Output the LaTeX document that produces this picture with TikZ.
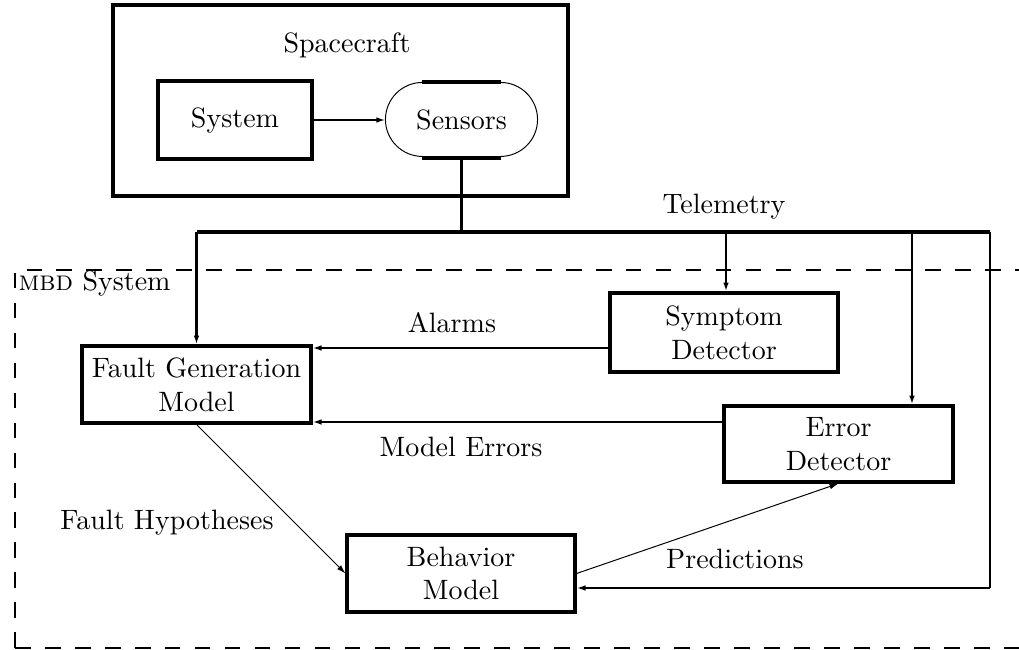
\documentclass[tikz,border=0pt]{standalone}
\usetikzlibrary{arrows.meta,calc}
\tikzset{
  sz/.style 2 args={minimum width=#1*0.3571pt, minimum height=#2*0.3571pt, inner sep=0pt},
  blk/.style={draw, line width=1.1pt, align=center},
  bus/.style={line width=1.4pt},
  heavy/.style={line width=1.05pt},
  medium/.style={line width=0.85pt},
  fine/.style={line width=0.35pt},
  tip/.style={-{Latex[length=3.2pt,width=2pt]}},
  lbl/.style={anchor=base, inner sep=0pt},
  boundary/.style={line width=1.05pt, dash pattern=on 5.6pt off 5.1pt},
}
\begin{document}
\begin{tikzpicture}[x=0.3571pt,y=-0.3571pt]
\useasboundingbox (0,0) rectangle (1019,650);

% spacecraft side
\node[blk, sz={455}{191}] (craft) at (340.5,100.5) {};
\node[lbl] (crafttitle) at (347,52) {Spacecraft};
\node[blk, sz={154}{78}] (system) at (235,120) {System};
\node[sz={151}{74}, align=center] (sensors) at (461.5,120) {Sensors};
% sensor outline: thin round ends, heavy straight sides
\draw[fine] ([xshift=13.21pt]sensors.north west) arc[start angle=90, end angle=270, radius=13.21pt];
\draw[fine] ([xshift=-13.21pt]sensors.north east) arc[start angle=90, end angle=-90, radius=13.21pt];
\draw[bus] ([xshift=13.21pt]sensors.north west) -- ([xshift=-13.21pt]sensors.north east);
\draw[bus] ([xshift=13.21pt]sensors.south west) -- ([xshift=-13.21pt]sensors.south east);
\draw[medium, tip] (system.east) -- (sensors.west);

% diagnosis system boundary
\draw[boundary] (15,648) -- (15,270) -- (1019,270);
\draw[boundary] (15,648) -- (1019,648);
\node[anchor=base west, inner sep=0pt] (mbd) at (18,290) {\textsc{mbd} System};

% diagnosis blocks
\node[blk, sz={229}{77}] (fgm) at (196.5,384.5) {Fault Generation\\Model};
\node[blk, sz={228}{79}] (symptom) at (724,332.5) {Symptom\\Detector};
\node[blk, sz={229}{76}] (error) at (838.5,444) {Error\\Detector};
\node[blk, sz={228}{77}] (behavior) at (461,573.5) {Behavior\\Model};

% telemetry bus
\coordinate (tap) at (sensors.south |- 0,232);
\coordinate (busw) at (fgm.north |- tap);
\coordinate (buse) at (990,232);
\coordinate (symtap) at (726,232);
\coordinate (errtap) at (912,232);
\coordinate (ret) at (buse |- 0,588);
\draw[bus] (sensors.south) -- (tap);
\draw[bus] (busw) -- (buse);
\draw[heavy] (buse) -- (ret);
\node[lbl] (tlm) at (724,213) {Telemetry};
\draw[heavy, tip] (busw) -- (fgm.north);
\draw[medium, tip] (symtap) -- (symtap |- symptom.north);
\draw[medium, tip] (errtap) -- (errtap |- error.north);
\draw[heavy, tip] (ret) -- (ret -| behavior.east);

% detector outputs
\draw[medium, tip] (symptom.west |- 0,348) -- (fgm.east |- 0,348);
\node[lbl] (alarms) at (452,332) {Alarms};
\draw[heavy, tip] (error.west |- 0,422) -- (fgm.east |- 0,422);
\node[lbl] (merr) at (461,456) {Model Errors};

% model links
\draw[fine, tip] (fgm.south) -- (behavior.west);
\node[lbl] (fhyp) at (167,529) {Fault Hypotheses};
\draw[fine, tip] (behavior.east) -- (error.south);
\node[lbl] (pred) at (735,568) {Predictions};
\end{tikzpicture}
\end{document}
